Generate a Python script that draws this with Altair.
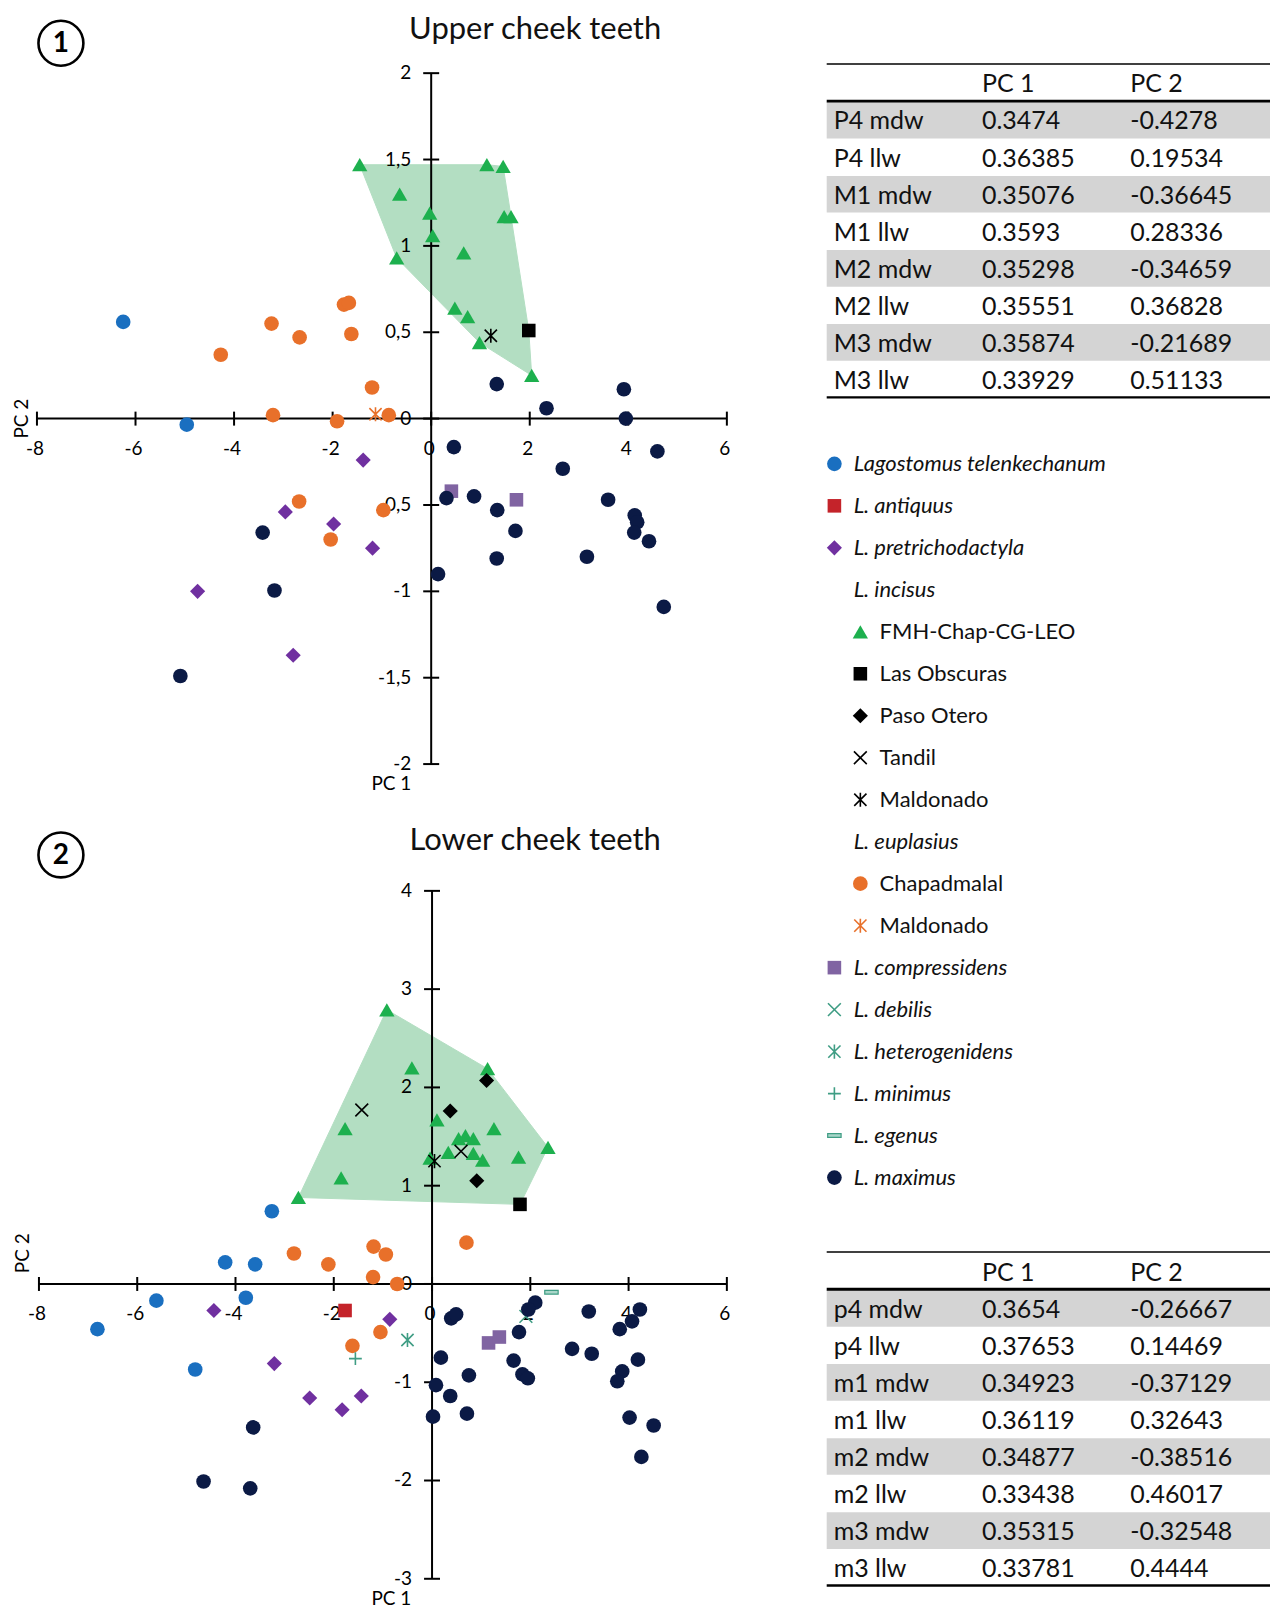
import altair as alt
import pandas as pd

# ---------------- Upper cheek teeth (PC1, PC2) ----------------
U_TELENK_X = [-6.25, -4.96]
U_TELENK_Y = [0.56, -0.035]
U_PRETRI_X = [-1.38, -2.96, -1.98, -1.19, -4.74, -2.80]
U_PRETRI_Y = [-0.24, -0.54, -0.61, -0.75, -1.00, -1.37]
U_FMH_X = [-1.45, 1.13, 1.46, -0.64, -0.03, 1.48, 1.62, 0.03, 0.66, -0.70, 0.48, 0.74, 0.98, 2.04]
U_FMH_Y = [1.47, 1.47, 1.46, 1.30, 1.19, 1.17, 1.17, 1.06, 0.96, 0.93, 0.64, 0.59, 0.44, 0.25]
U_OBSC_X = [1.98]
U_OBSC_Y = [0.51]
U_MALDI_X = [1.21]
U_MALDI_Y = [0.48]
U_CHAP_X = [-3.24, -2.67, -4.27, -1.77, -1.67, -1.62, -1.20, -3.21, -1.91, -0.86, -2.68, -2.04, -0.97]
U_CHAP_Y = [0.55, 0.47, 0.37, 0.66, 0.67, 0.49, 0.18, 0.02, -0.015, 0.02, -0.48, -0.70, -0.53]
U_MALDE_X = [-1.13]
U_MALDE_Y = [0.025]
U_COMP_X = [0.41, 1.73]
U_COMP_Y = [-0.42, -0.47]
U_MAX_X = [1.33, 3.91, 2.34, 3.95, 0.46, 4.59, 2.67, 0.31, 0.87, 1.34, 3.59, 4.13, 4.18, 4.12,
           4.42, 1.71, 1.33, 3.16, 0.14, 4.72, -3.42, -3.18, -5.09]
U_MAX_Y = [0.20, 0.17, 0.06, 0.0, -0.165, -0.19, -0.29, -0.46, -0.45, -0.53, -0.47, -0.56, -0.60, -0.66,
           -0.71, -0.65, -0.81, -0.80, -0.90, -1.09, -0.66, -0.995, -1.49]

# ---------------- Lower cheek teeth (PC1, PC2) ----------------
L_TELENK_X = [-3.26, -4.21, -3.60, -5.61, -3.79, -6.81, -4.82]
L_TELENK_Y = [0.74, 0.22, 0.20, -0.17, -0.14, -0.46, -0.87]
L_ANTIQ_X = [-1.77]
L_ANTIQ_Y = [-0.27]
L_PRETRI_X = [-4.44, -0.86, -3.21, -2.49, -1.83, -1.44]
L_PRETRI_Y = [-0.27, -0.36, -0.81, -1.16, -1.28, -1.14]
L_FMH_X = [-0.92, -0.41, 1.13, -1.77, 0.10, 1.26, 0.54, 0.68, 0.84, 2.36, 0.33, 0.84, 1.03, 1.76, -0.04, -1.85, -2.72]
L_FMH_Y = [2.79, 2.20, 2.19, 1.58, 1.67, 1.58, 1.48, 1.51, 1.48, 1.39, 1.34, 1.33, 1.26, 1.29, 1.28, 1.08, 0.88]
L_OBSC_X = [1.79]
L_OBSC_Y = [0.81]
L_PASO_X = [1.11, 0.37, 0.91]
L_PASO_Y = [2.07, 1.76, 1.05]
L_TANDIL_X = [-1.43, 0.59]
L_TANDIL_Y = [1.77, 1.35]
L_MALDI_X = [0.05]
L_MALDI_Y = [1.25]
L_CHAP_X = [-2.81, -2.11, -1.19, -0.94, -1.20, -0.71, 0.70, -1.05, -1.62]
L_CHAP_Y = [0.31, 0.20, 0.38, 0.30, 0.07, 0.0, 0.42, -0.49, -0.63]
L_COMP_X = [1.15, 1.37]
L_COMP_Y = [-0.60, -0.54]
L_DEB_X = [1.91]
L_DEB_Y = [-0.33]
L_HET_X = [-0.50]
L_HET_Y = [-0.57]
L_MIN_X = [-1.56]
L_MIN_Y = [-0.76]
L_EGE_X = [2.43]
L_EGE_Y = [-0.085]
L_MAX_X = [2.10, 1.96, 0.39, 0.49, 3.19, 4.23, 4.07, 3.82, 1.77, 2.85, 3.25, 0.18, 1.66, 4.19, 3.87,
           0.75, 1.84, 1.95, 3.77, 0.08, 0.37, 0.02, 0.71, -3.64, 4.02, 4.51, 4.26, -4.65, -3.70]
L_MAX_Y = [-0.19, -0.26, -0.35, -0.31, -0.28, -0.26, -0.38, -0.46, -0.49, -0.66, -0.71, -0.75, -0.78, -0.77, -0.89,
           -0.93, -0.92, -0.96, -0.99, -1.03, -1.14, -1.35, -1.32, -1.46, -1.36, -1.44, -1.76, -2.01, -2.08]

# ---------------- axes ----------------
X_TICKS = [-8, -6, -4, -2, 0, 2, 4, 6]
X_TICK_LABELS = ["-8", "-6", "-4", "-2", "0", "2", "4", "6"]
U_Y_TICKS = [-2, -1.5, -1, -0.5, 0, 0.5, 1, 1.5, 2]
U_Y_TICK_LABELS = ["-2", "-1,5", "-1", "-0,5", "0", "0,5", "1", "1,5", "2"]
L_Y_TICKS = [-3, -2, -1, 0, 1, 2, 3, 4]
L_Y_TICK_LABELS = ["-3", "-2", "-1", "0", "1", "2", "3", "4"]

# ---------------- tables ----------------
T1_NAMES = ["P4 mdw", "P4 llw", "M1 mdw", "M1 llw", "M2 mdw", "M2 llw", "M3 mdw", "M3 llw"]
T1_PC1 = [0.3474, 0.36385, 0.35076, 0.3593, 0.35298, 0.35551, 0.35874, 0.33929]
T1_PC2 = [-0.4278, 0.19534, -0.36645, 0.28336, -0.34659, 0.36828, -0.21689, 0.51133]
T2_NAMES = ["p4 mdw", "p4 llw", "m1 mdw", "m1 llw", "m2 mdw", "m2 llw", "m3 mdw", "m3 llw"]
T2_PC1 = [0.3654, 0.37653, 0.34923, 0.36119, 0.34877, 0.33438, 0.35315, 0.33781]
T2_PC2 = [-0.26667, 0.14469, -0.37129, 0.32643, -0.38516, 0.46017, -0.32548, 0.4444]
T_HEADERS = ["PC 1", "PC 2"]

# ---------------- legend ----------------
LEG_LABELS = ["Lagostomus telenkechanum", "L. antiquus", "L. pretrichodactyla", "L. incisus",
              "FMH-Chap-CG-LEO", "Las Obscuras", "Paso Otero", "Tandil", "Maldonado",
              "L. euplasius", "Chapadmalal", "Maldonado", "L. compressidens", "L. debilis",
              "L. heterogenidens", "L. minimus", "L. egenus", "L. maximus"]
LEG_KEYS = ["telenk", "antiq", "pretri", None, "fmh", "obsc", "paso", "tandil", "maldi",
            None, "chap", "malde", "comp", "deb", "het", "min", "ege", "max"]
LEG_LEVEL = [0, 0, 0, 0, 1, 1, 1, 1, 1, 0, 1, 1, 0, 0, 0, 0, 0, 0]
LEG_ITALIC = [True, True, True, True, False, False, False, False, False,
              True, False, False, True, True, True, True, True, True]

FONT = "Lato"
X_PATH = "M-1,-1L1,1M1,-1L-1,1"
AST_PATH = "M-1,-1L1,1M1,-1L-1,1M0,-1.15L0,1.15"
PLUS_PATH = "M-1,0L1,0M0,-1L0,1"
DASH_PATH = "M-1,-0.28L1,-0.28L1,0.28L-1,0.28Z"
TEAL = "#3f9d84"
STYLES = {
    "telenk": dict(shape="circle", color="#1a6fc0", filled=True, size=215),
    "antiq": dict(shape="square", color="#c4232a", filled=True, size=185),
    "pretri": dict(shape="diamond", color="#7030a0", filled=True, size=230),
    "fmh": dict(shape="triangle-up", color="#1db04e", filled=True, size=235),
    "obsc": dict(shape="square", color="#000000", filled=True, size=185),
    "paso": dict(shape="diamond", color="#000000", filled=True, size=230),
    "tandil": dict(shape=X_PATH, color="#000000", filled=False, size=165, sw=1.6),
    "maldi": dict(shape=AST_PATH, color="#000000", filled=False, size=150, sw=1.6),
    "chap": dict(shape="circle", color="#e8702a", filled=True, size=215),
    "malde": dict(shape=AST_PATH, color="#e8702a", filled=False, size=150, sw=1.6),
    "comp": dict(shape="square", color="#8064a2", filled=True, size=185),
    "deb": dict(shape=X_PATH, color=TEAL, filled=False, size=165, sw=1.6),
    "het": dict(shape=AST_PATH, color=TEAL, filled=False, size=150, sw=1.6),
    "min": dict(shape=PLUS_PATH, color=TEAL, filled=False, size=165, sw=1.6),
    "ege": dict(shape=DASH_PATH, color=TEAL, filled=True, fill="#a9d6c9", size=180, sw=1.2),
    "max": dict(shape="circle", color="#0b1a45", filled=True, size=215),
}
HULL_FILL = "#b3dec2"
BAND_GRAY = "#d4d4d4"

UPPER = [("fmh", U_FMH_X, U_FMH_Y), ("obsc", U_OBSC_X, U_OBSC_Y), ("maldi", U_MALDI_X, U_MALDI_Y),
         ("telenk", U_TELENK_X, U_TELENK_Y), ("pretri", U_PRETRI_X, U_PRETRI_Y),
         ("chap", U_CHAP_X, U_CHAP_Y), ("malde", U_MALDE_X, U_MALDE_Y),
         ("comp", U_COMP_X, U_COMP_Y), ("max", U_MAX_X, U_MAX_Y)]
U_INCISUS = ["fmh", "obsc", "maldi"]
LOWER = [("fmh", L_FMH_X, L_FMH_Y), ("obsc", L_OBSC_X, L_OBSC_Y), ("paso", L_PASO_X, L_PASO_Y),
         ("tandil", L_TANDIL_X, L_TANDIL_Y), ("maldi", L_MALDI_X, L_MALDI_Y),
         ("telenk", L_TELENK_X, L_TELENK_Y), ("antiq", L_ANTIQ_X, L_ANTIQ_Y),
         ("pretri", L_PRETRI_X, L_PRETRI_Y), ("chap", L_CHAP_X, L_CHAP_Y),
         ("comp", L_COMP_X, L_COMP_Y), ("deb", L_DEB_X, L_DEB_Y), ("het", L_HET_X, L_HET_Y),
         ("min", L_MIN_X, L_MIN_Y), ("ege", L_EGE_X, L_EGE_Y), ("max", L_MAX_X, L_MAX_Y)]
L_INCISUS = ["fmh", "obsc", "paso", "tandil", "maldi"]


def dom(v0, p0, v1, p1, size):
    b = (p1 - p0) / (v1 - v0)
    a = v0 - p0 / b
    c = v0 + (size - p0) / b
    return sorted([a, c])


def convex_hull(pts):
    pts = sorted(set(pts))

    def cross(o, a, b):
        return (a[0] - o[0]) * (b[1] - o[1]) - (a[1] - o[1]) * (b[0] - o[0])
    lower, upper = [], []
    for p in pts:
        while len(lower) >= 2 and cross(lower[-2], lower[-1], p) <= 0:
            lower.pop()
        lower.append(p)
    for p in reversed(pts):
        while len(upper) >= 2 and cross(upper[-2], upper[-1], p) <= 0:
            upper.pop()
        upper.append(p)
    return lower[:-1] + upper[:-1]


def marker_mark(key, **extra):
    st = STYLES[key]
    kw = dict(shape=st["shape"], size=st["size"], opacity=1)
    if st["filled"]:
        if "fill" in st:
            kw.update(filled=True, fill=st["fill"], stroke=st["color"], strokeWidth=st["sw"])
        else:
            kw.update(filled=True, color=st["color"])
    else:
        kw.update(filled=False, color=st["color"], strokeWidth=st["sw"])
    kw.update(extra)
    return kw


def scatter_view(groups, incisus, W, H, xdom, ydom, yticks, ylabels, title, number,
                 title_y, num_y, pc2_pos, pc1_pos):
    xs = alt.Scale(domain=xdom, nice=False, zero=False)
    ys = alt.Scale(domain=ydom, nice=False, zero=False)
    layers = []
    # convex hull of L. incisus
    pts = []
    for k, gx, gy in groups:
        if k in incisus:
            pts += list(zip(gx, gy))
    hull = convex_hull(pts)
    hull = hull + [hull[0]]
    hdf = pd.DataFrame({"x": [p[0] for p in hull], "y": [p[1] for p in hull], "i": list(range(len(hull)))})
    layers.append(alt.Chart(hdf).mark_line(fill=HULL_FILL, stroke=HULL_FILL, strokeWidth=1).encode(
        x=alt.X("x:Q", scale=xs, axis=None), y=alt.Y("y:Q", scale=ys, axis=None),
        order=alt.Order("i:Q")))
    # axis lines
    ax = pd.DataFrame({"x0": [X_TICKS[0]], "x1": [X_TICKS[-1]], "y": [0]})
    layers.append(alt.Chart(ax).mark_rule(color="black", strokeWidth=2).encode(
        x=alt.X("x0:Q", scale=xs, axis=None), x2="x1:Q", y=alt.Y("y:Q", scale=ys, axis=None)))
    ay = pd.DataFrame({"x": [0], "y0": [yticks[0]], "y1": [yticks[-1]]})
    layers.append(alt.Chart(ay).mark_rule(color="black", strokeWidth=2).encode(
        x=alt.X("x:Q", scale=xs, axis=None), y=alt.Y("y0:Q", scale=ys, axis=None), y2="y1:Q"))
    # ticks
    xt = pd.DataFrame({"t": X_TICKS, "z": [0] * len(X_TICKS), "lab": X_TICK_LABELS})
    layers.append(alt.Chart(xt).mark_rule(color="black", strokeWidth=2, yOffset=-7, y2Offset=7).encode(
        x=alt.X("t:Q", scale=xs, axis=None), y=alt.Y("z:Q", scale=ys, axis=None), y2="z:Q"))
    layers.append(alt.Chart(xt).mark_text(font=FONT, fontSize=19, color="black", dy=30, dx=-2,
                                          align="center", baseline="middle").encode(
        x=alt.X("t:Q", scale=xs, axis=None), y=alt.Y("z:Q", scale=ys, axis=None), text="lab:N"))
    yt = pd.DataFrame({"t": yticks, "z": [0] * len(yticks), "lab": ylabels})
    layers.append(alt.Chart(yt).mark_rule(color="black", strokeWidth=2, xOffset=-8, x2Offset=8).encode(
        y=alt.Y("t:Q", scale=ys, axis=None), x=alt.X("z:Q", scale=xs, axis=None), x2="z:Q"))
    layers.append(alt.Chart(yt).mark_text(font=FONT, fontSize=19, color="black", dx=-20,
                                          align="right", baseline="middle").encode(
        y=alt.Y("t:Q", scale=ys, axis=None), x=alt.X("z:Q", scale=xs, axis=None), text="lab:N"))
    # points
    for k, gx, gy in groups:
        df = pd.DataFrame({"pc1": gx, "pc2": gy})
        layers.append(alt.Chart(df).mark_point(**marker_mark(k)).encode(
            x=alt.X("pc1:Q", scale=xs, axis=None), y=alt.Y("pc2:Q", scale=ys, axis=None)))
    # annotations
    layers.append(alt.Chart(pd.DataFrame({"t": [title]})).mark_text(
        font=FONT, fontSize=31, color="#111111", align="center", baseline="middle").encode(
        x=alt.value(528), y=alt.value(title_y), text="t:N"))
    layers.append(alt.Chart(pd.DataFrame({"t": [number]})).mark_point(
        shape="circle", size=2025, filled=False, color="black", strokeWidth=2.6, opacity=1).encode(
        x=alt.value(53), y=alt.value(num_y)))
    layers.append(alt.Chart(pd.DataFrame({"t": [number]})).mark_text(
        font=FONT, fontSize=28, fontWeight="bold", color="black", align="center", baseline="middle").encode(
        x=alt.value(53), y=alt.value(num_y + 1), text="t:N"))
    layers.append(alt.Chart(pd.DataFrame({"t": ["PC 2"]})).mark_text(
        font=FONT, fontSize=19, color="black", angle=270, align="center", baseline="middle").encode(
        x=alt.value(pc2_pos[0]), y=alt.value(pc2_pos[1]), text="t:N"))
    layers.append(alt.Chart(pd.DataFrame({"t": ["PC 1"]})).mark_text(
        font=FONT, fontSize=19, color="black", align="center", baseline="middle").encode(
        x=alt.value(pc1_pos[0]), y=alt.value(pc1_pos[1]), text="t:N"))
    return alt.layer(*layers).properties(width=W, height=H)


LW = 780
UH = 792
LH = 810
upper = scatter_view(UPPER, U_INCISUS, LW, UH,
                     dom(-8, 29, 6, 720, LW), dom(2, 64, -2, 756, UH),
                     U_Y_TICKS, U_Y_TICK_LABELS, "Upper cheek teeth", "1",
                     21, 34, (14, 410), (384, 776))
lower = scatter_view(LOWER, L_INCISUS, LW, LH,
                     dom(-8, 31, 6, 720, LW), dom(4, 91, -3, 780, LH),
                     L_Y_TICKS, L_Y_TICK_LABELS, "Lower cheek teeth", "2",
                     41, 55, (15, 454), (384, 800))

RW = 484
PITCH = 37.1
COL0 = 47
COLP = 148.5


def table_view(names, pc1, pc2, base, H):
    xdom = [-COL0 / COLP, (RW - COL0) / COLP]
    xs = alt.Scale(domain=xdom, nice=False, zero=False)
    ys = alt.Scale(domain=[-base / PITCH, (H - base) / PITCH], reverse=True, nice=False, zero=False)
    xl = (40 - COL0) / COLP
    bands = pd.DataFrame({"r": [i + 1 for i in range(len(names)) if i % 2 == 0]})
    bands["y0"] = bands["r"] - 0.53
    bands["y1"] = bands["r"] + 0.46
    bands["x0"] = xl
    bands["x1"] = xdom[1]
    cells = []
    for j, h in enumerate(T_HEADERS):
        cells.append({"r": 0, "c": j + 1, "t": h})
    for i, n in enumerate(names):
        cells.append({"r": i + 1, "c": 0, "t": n})
        cells.append({"r": i + 1, "c": 1, "t": str(pc1[i])})
        cells.append({"r": i + 1, "c": 2, "t": str(pc2[i])})
    cdf = pd.DataFrame(cells)
    rules = pd.DataFrame({"y": [-0.555, 0.45, len(names) + 0.447], "w": [1.5, 2.8, 2.4],
                          "x0": [xl] * 3, "x1": [xdom[1]] * 3})
    l1 = alt.Chart(bands).mark_rect(color=BAND_GRAY, opacity=1).encode(
        x=alt.X("x0:Q", scale=xs, axis=None), x2="x1:Q",
        y=alt.Y("y0:Q", scale=ys, axis=None), y2="y1:Q")
    l2 = alt.Chart(rules).mark_rule(color="black").encode(
        x=alt.X("x0:Q", scale=xs, axis=None), x2="x1:Q",
        y=alt.Y("y:Q", scale=ys, axis=None), strokeWidth=alt.StrokeWidth("w:Q", scale=None, legend=None))
    l3 = alt.Chart(cdf).mark_text(font=FONT, fontSize=25, color="#111111", align="left",
                                  baseline="middle").encode(
        x=alt.X("c:Q", scale=xs, axis=None), y=alt.Y("r:Q", scale=ys, axis=None), text="t:N")
    return alt.layer(l1, l2, l3).properties(width=RW, height=H)


T1H = 412
LGH = 800
T2H = 390
t1 = table_view(T1_NAMES, T1_PC1, T1_PC2, 75.3, T1H)
t2 = table_view(T2_NAMES, T2_PC1, T2_PC2, 53.3, T2H)

# legend
LBASE = 43.3
LPITCH = 42.05
LX0 = 47.7
LXP = 26.0
lxs = alt.Scale(domain=[-LX0 / LXP, (RW - LX0) / LXP], nice=False, zero=False)
lys = alt.Scale(domain=[-LBASE / LPITCH, (LGH - LBASE) / LPITCH], reverse=True, nice=False, zero=False)
leg_df = pd.DataFrame({"i": list(range(len(LEG_LABELS))), "lab": LEG_LABELS, "lvl": LEG_LEVEL,
                       "it": LEG_ITALIC, "key": [k if k else "" for k in LEG_KEYS]})
leg_layers = []
for fs, flag in (("italic", True), ("normal", False)):
    sub = leg_df[leg_df["it"] == flag]
    leg_layers.append(alt.Chart(sub).mark_text(font=FONT, fontSize=22, fontStyle=fs, color="#111111",
                                               align="left", baseline="middle", dx=19.3).encode(
        x=alt.X("lvl:Q", scale=lxs, axis=None), y=alt.Y("i:Q", scale=lys, axis=None), text="lab:N"))
for _, row in leg_df.iterrows():
    if row["key"]:
        one = pd.DataFrame({"i": [row["i"]], "lvl": [row["lvl"]]})
        leg_layers.append(alt.Chart(one).mark_point(**marker_mark(row["key"])).encode(
            x=alt.X("lvl:Q", scale=lxs, axis=None), y=alt.Y("i:Q", scale=lys, axis=None)))
legend = alt.layer(*leg_layers).properties(width=RW, height=LGH)

left = alt.vconcat(upper, lower, spacing=0)
right = alt.vconcat(t1, legend, t2, spacing=0)
chart = alt.hconcat(left, right, spacing=0).properties(
    padding={"left": 0, "top": 0, "right": 0, "bottom": 0}
).configure_view(stroke=None)

chart.save("out.html", embed_options={"renderer": "svg", "actions": False})
